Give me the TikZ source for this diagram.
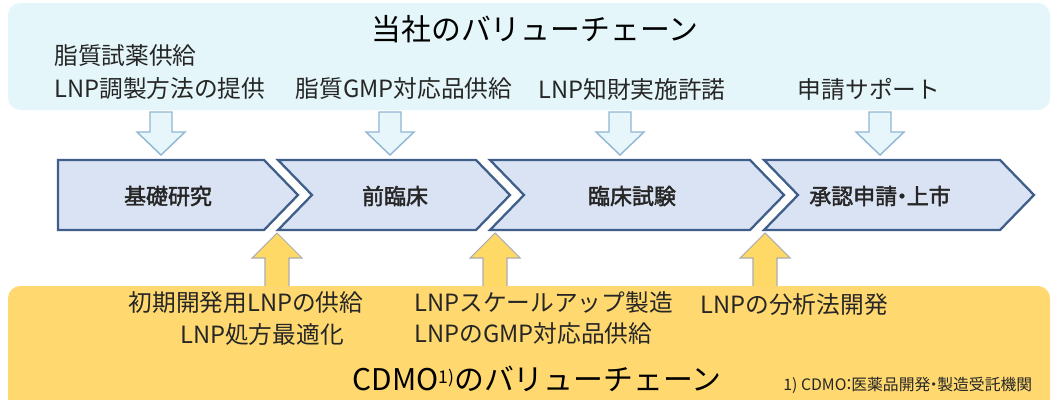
\documentclass[tikz,border=0pt]{standalone}
\usepackage{fontspec}
\setmainfont{Noto Sans CJK JP}
\newfontfamily\medfont[FakeBold=2]{Noto Sans CJK JP}
\usetikzlibrary{calc}
\definecolor{topbg}{HTML}{E4F6F9}
\definecolor{botbg}{HTML}{FFD970}
\definecolor{chevfill}{HTML}{DAE3F3}
\definecolor{chevline}{HTML}{3F5F8A}
\definecolor{dfill}{HTML}{E6F6FA}
\definecolor{dline}{HTML}{8FB6D3}
\definecolor{ufill}{HTML}{FFD966}
\definecolor{uline}{HTML}{ADADAD}
\definecolor{txt}{HTML}{262626}
\newcommand{\hwdot}{\kern-0.28em・\kern-0.28em}
\newcommand{\hwcolon}{\kern-0.35em：\kern-0.35em}
\tikzset{
  body/.style={font=\fontsize{13.5pt}{16pt}\selectfont, text=txt, inner sep=0pt},
  big/.style={font=\fontsize{17pt}{20pt}\selectfont, text=black, inner sep=0pt},
  chevlabel/.style={font=\fontsize{12.5pt}{15pt}\selectfont\medfont, text=txt, inner sep=0pt},
  note/.style={font=\fontsize{9pt}{11pt}\selectfont, text=txt, inner sep=0pt},
  chev/.style={fill=chevfill, draw=chevline, line width=1.3pt, line join=miter},
  darrow/.style={fill=dfill, draw=dline, line width=0.8pt},
  uarrow/.style={fill=ufill, draw=uline, line width=0.6pt},
}
\begin{document}
\begin{tikzpicture}[x=0.02cm, y=-0.02cm]
\useasboundingbox (0,0) rectangle (1057,399);
\fill[white] (0,0) rectangle (1057,399);
% background panels
\fill[topbg, rounded corners=7pt] (8,3) rectangle (1050,110);
\fill[botbg, rounded corners=7pt] (8,286) rectangle (1050,430);
\node[big] (t1) at (535,29) {当社のバリューチェーン};
\node[big] (t2) at (537,379) {CDMO{\fontsize{10pt}{10pt}\selectfont\raisebox{0.75ex}{1)}}のバリューチェーン};
\node[note, anchor=west] (fn) at (783,385) {1) CDMO\hwcolon 医薬品開発\hwdot 製造受託機関};
% top labels
\node[body, anchor=west] (a1) at (54,56) {脂質試薬供給};
\node[body, anchor=west] (a2) at (54,89) {LNP調製方法の提供};
\node[body] (b1) at (404,89) {脂質GMP対応品供給};
\node[body] (c1) at (632,89) {LNP知財実施許諾};
\node[body] (d1) at (869,89) {申請サポート};
% down arrows
\foreach \cx/\nm in {161/da, 390/db, 620/dc, 880/dd}{
  \draw[darrow] (\cx-11,112) -- (\cx+11,112) -- (\cx+11,132) -- (\cx+24,132)
     -- (\cx,155) coordinate (\nm) -- (\cx-24,132) -- (\cx-11,132) -- cycle;
}
% chevrons
\def\dep{34}
\draw[chev] (58,160) -- (264,160) -- (264+\dep,195) -- (264,230) -- (58,230) -- cycle;
\draw[chev] (278,160) -- (476,160) -- (476+\dep,195) -- (476,230) -- (278,230) -- (278+\dep,195) -- cycle;
\draw[chev] (490,160) -- (750,160) -- (750+\dep,195) -- (750,230) -- (490,230) -- (490+\dep,195) -- cycle;
\draw[chev] (764,160) -- (1000,160) -- (1000+\dep,195) -- (1000,230) -- (764,230) -- (764+\dep,195) -- cycle;
\node[chevlabel] (s1) at (168,196) {基礎研究};
\node[chevlabel] (s2) at (395,196) {前臨床};
\node[chevlabel] (s3) at (632,196) {臨床試験};
\node[chevlabel] (s4) at (880,196) {承認申請\hwdot 上市};
% up arrows
\foreach \cx/\nm in {277/ua, 495/ub, 765/uc}{
  \draw[uarrow] (\cx-12,286) -- (\cx-12,258) -- (\cx-25,258) -- (\cx,233) coordinate (\nm)
     -- (\cx+25,258) -- (\cx+12,258) -- (\cx+12,286);
}
% bottom labels
\node[body] (e1) at (246,303) {初期開発用LNPの供給};
\node[body] (e2) at (262,334) {LNP処方最適化};
\node[body, anchor=west] (f1) at (414,303) {LNPスケールアップ製造};
\node[body, anchor=west] (f2) at (414,334) {LNPのGMP対応品供給};
\node[body, anchor=west] (g1) at (700,305) {LNPの分析法開発};
\end{tikzpicture}
\end{document}
